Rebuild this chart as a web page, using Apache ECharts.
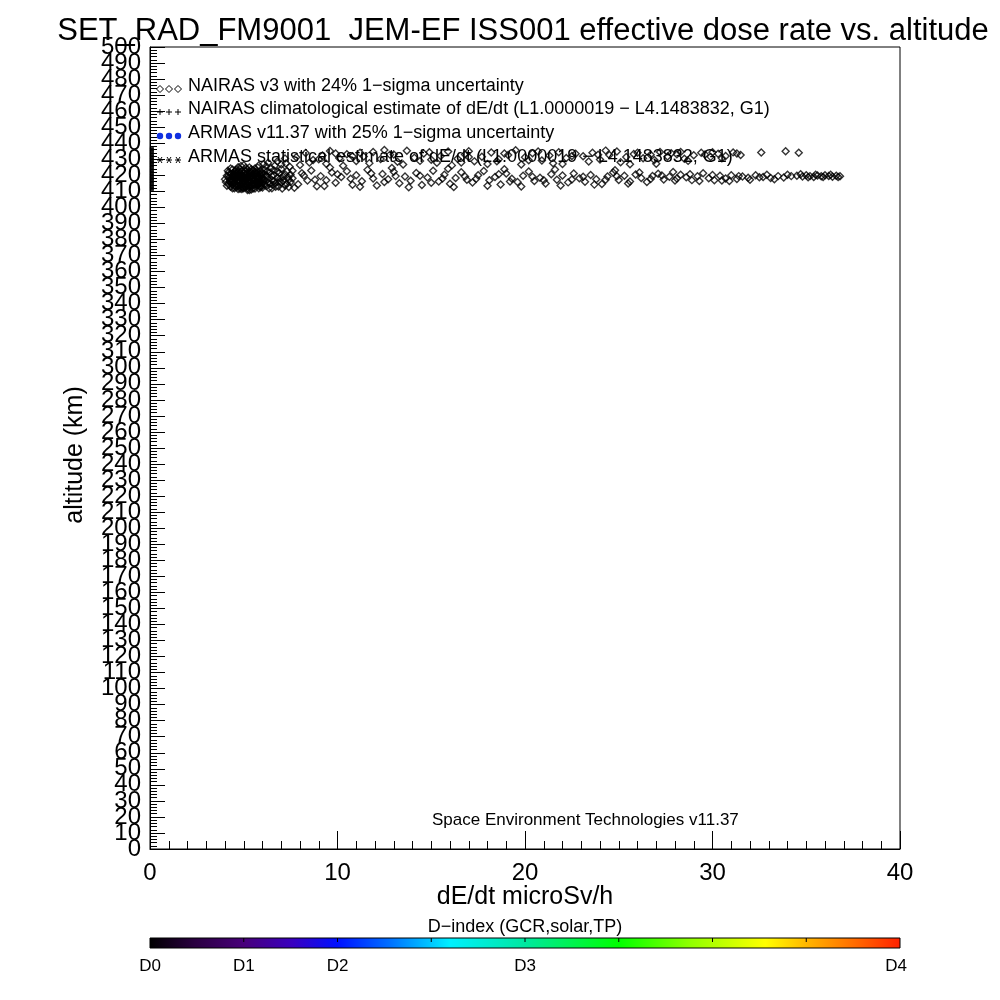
<!DOCTYPE html>
<html><head><meta charset="utf-8">
<script src="https://cdn.jsdelivr.net/npm/echarts@6/dist/echarts.min.js"></script>
<style>html,body{margin:0;padding:0;background:#fff}#c{width:1000px;height:1000px}</style>
</head><body><div id="c"></div><script>
// ---- data (dose rate microSv/h, altitude km) ----
const clusterCore = [
[4.0,417.5],[4.1,419.8],[4.2,414.6],[4.2,421.9],[4.3,416.9],[4.3,412.8],[4.4,419.2],[4.4,423.6],[4.5,415.3],[4.5,411.9],
[4.6,418.1],[4.6,421.0],[4.7,413.7],[4.7,425.1],[4.8,416.2],[4.8,419.9],[4.9,411.4],[4.9,422.7],[5.0,414.8],[5.0,418.6],
[5.0,426.3],[5.1,412.5],[5.1,420.7],[5.2,416.0],[5.2,423.4],[5.3,413.1],[5.3,418.9],[5.4,421.6],[5.4,415.7],[5.5,411.8],
[5.5,419.4],[5.6,424.2],[5.6,417.3],[5.7,413.9],[5.7,421.2],[5.8,416.5],[5.8,419.0],[5.9,412.6],[5.9,422.8],[6.0,415.1],
[6.0,418.4],[6.1,420.9],[6.2,413.4],[6.2,425.7],[6.3,417.6],[6.4,421.8],[6.4,414.9],[6.5,419.5],[6.6,416.3],[6.6,423.1],
[6.7,412.9],[6.8,418.7],[6.9,421.4],[7.0,415.6],[7.0,426.8],[7.1,419.1],[7.2,413.6],[7.3,422.5],[7.4,417.2],[7.5,420.3],
[4.4,417.0],[4.8,414.0],[5.1,416.8],[5.4,419.6],[4.6,423.5],[5.9,420.2],[6.3,427.9],[6.8,428.8],[7.2,430.5],[5.2,410.9],
[4.3,420.9],[4.9,417.4],[5.6,414.5],[6.1,417.1],[6.9,416.0],[7.4,412.7],[4.5,422.1],[5.3,424.9],[5.8,426.1],[6.5,411.9],
[4.2,418.3],[4.5,413.4],[4.7,420.4],[4.9,415.2],[5.1,422.4],[5.3,410.8],[5.5,416.9],[5.7,418.6],[5.9,415.0],[6.1,423.5],
[4.35,415.6],[4.65,416.7],[4.85,421.3],[5.05,412.9],[5.25,419.9],[5.45,413.6],[5.65,420.3],[5.85,413.2],[6.25,419.6],[6.55,414.2]
];
const clusterExtra = [
[4.1,413.5],[4.15,422.8],[4.25,416.0],[4.3,424.3],[4.4,414.2],[4.45,420.5],[4.55,417.9],[4.6,412.6],[4.7,422.0],[4.75,418.9],
[4.8,411.6],[4.85,425.8],[4.95,419.6],[5.0,421.5],[5.05,416.1],[5.1,424.6],[5.15,413.9],[5.2,418.2],[5.3,415.4],[5.35,422.0],
[5.4,411.2],[5.45,417.8],[5.5,423.3],[5.55,414.0],[5.6,420.7],[5.7,416.0],[5.75,424.8],[5.8,411.9],[5.9,418.0],[5.95,421.6],
[6.0,412.4],[6.05,426.9],[6.1,414.5],[6.2,419.8],[6.25,422.6],[6.3,415.3],[6.35,412.0],[6.45,424.5],[6.5,417.0],[6.6,420.1],
[6.65,426.0],[6.7,415.1],[6.8,422.4],[6.85,413.0],[6.95,418.0],[7.0,424.0],[7.05,411.8],[7.1,416.6],[7.2,420.6],[7.25,427.4],
[7.3,414.8],[7.35,419.0],[7.45,425.3],[7.5,415.9],[7.6,422.8],[4.05,415.9],[4.2,420.2],[4.5,418.9],[4.9,413.0],[5.2,421.0]
];
const clusterDense = [
[4.4,412.0],[4.45,415.0],[4.5,421.0],[4.55,423.0],[4.6,414.0],[4.65,419.0],[4.7,411.5],[4.75,416.5],[4.8,423.9],[4.85,418.0],
[4.9,420.0],[4.95,412.2],[5.0,416.9],[5.05,422.6],[5.1,414.9],[5.15,419.0],[5.2,412.0],[5.25,417.0],[5.3,421.8],[5.35,413.0],
[5.4,417.4],[5.45,422.8],[5.5,414.6],[5.55,420.0],[5.6,411.8],[5.65,416.0],[5.7,422.6],[5.75,414.0],[5.8,418.2],[5.85,420.8],
[5.9,416.8],[5.95,413.4],[6.0,421.0],[4.5,416.0],[4.7,417.0],[4.9,418.9],[5.1,418.0],[5.3,416.4],[5.5,418.0],[5.7,419.7],
[4.6,420.0],[4.8,413.0],[5.0,412.0],[5.2,414.0],[5.4,423.8],[5.6,422.0],[5.8,415.0],[6.0,417.0],[4.35,418.0],[4.55,420.0]
];
const upperBand = [
[7.8,431.2],[8.3,433.9],[8.7,429.5],[9.2,432.4],[9.6,435.1],[10.1,430.6],[10.5,433.2],[11.0,428.9],[11.4,431.8],[11.9,434.6],
[12.3,430.1],[12.8,432.9],[13.2,428.4],[13.7,435.3],[14.1,431.0],[14.6,433.6],[15.0,429.7],[15.5,432.1],[15.9,434.9],[16.4,430.4],
[16.8,433.0],[17.3,428.7],[17.7,431.6],[18.2,434.2],[18.6,430.0],[19.1,432.7],[19.5,435.6],[20.0,431.3],[20.4,433.8],[20.9,429.2],
[21.3,432.3],[21.8,434.4],[22.2,430.8],[22.7,433.5],[23.1,431.9],[23.6,434.0],[24.0,429.9],[24.5,432.6],[24.9,434.8],[25.4,431.4],
[25.8,433.3],[26.3,430.7],[26.7,432.8],[27.2,434.5],[27.6,431.7],[28.1,433.1],[28.5,430.3],[29.0,432.5],[29.4,434.1],[29.9,431.5],
[30.3,433.4],[30.7,432.0],[31.1,434.3],[31.5,432.6],[32.6,434.2],[33.9,435.0],[34.6,434.1],[9.0,430.0],[13.0,433.0],[17.0,435.0]
];
const upperExtra = [
[8.0,426.5],[8.5,428.0],[9.4,427.2],[10.3,426.0],[10.8,431.9],[11.7,427.6],[12.5,435.8],[13.5,426.7],[14.4,429.0],[15.3,427.9],
[16.1,426.2],[17.0,431.4],[18.0,427.1],[18.9,433.6],[19.8,426.8],[20.7,434.9],[21.5,427.5],[22.5,432.0],[23.4,428.6],[24.3,435.4],
[25.1,428.2],[26.0,434.0],[26.9,429.6],[27.8,433.8],[28.7,429.0],[29.6,433.0],[30.5,430.6],[31.3,433.6],[11.2,434.0],[14.9,434.4],
[18.5,428.8],[22.0,427.0],[25.6,426.9],[28.3,434.6],[30.0,434.4],[9.9,433.6],[16.6,428.0],[20.2,429.4],[23.9,432.8],[27.0,427.2]
];
const lowerBand = [
[7.6,418.2],[7.9,414.5],[8.1,421.3],[8.4,416.8],[8.6,423.0],[8.9,413.2],[9.1,419.5],[9.4,417.0],[9.7,421.8],[9.9,415.4],
[10.2,418.9],[10.5,422.6],[10.8,414.1],[11.0,420.0],[11.3,416.3],[11.6,423.4],[11.9,418.0],[12.1,413.7],[12.4,420.8],[12.7,417.5],
[13.0,422.2],[13.3,415.0],[13.6,419.2],[13.9,416.6],[14.2,421.5],[14.5,413.9],[14.8,418.6],[15.1,422.9],[15.4,416.1],[15.7,420.4],
[16.0,414.7],[16.3,418.3],[16.6,421.9],[16.9,417.2],[17.2,415.5],[17.5,420.1],[17.8,422.7],[18.1,416.9],[18.4,419.0],[18.7,414.3],
[19.0,421.2],[19.3,417.8],[19.6,415.9],[19.9,419.7],[20.2,422.4],[20.5,416.4],[20.8,418.5],[21.1,414.9],[21.4,420.6],[21.7,417.3],
[22.0,419.9],[22.3,415.6],[22.6,421.1],[22.9,418.1],[23.2,416.0],[23.5,420.2],[23.8,417.6],[24.1,414.6],[24.4,419.3],[24.7,421.7],
[25.0,417.1],[25.3,419.8],[25.6,416.2],[25.9,420.5],[26.2,418.4],[26.5,415.8],[26.8,419.6],[27.1,421.0],[27.4,417.4],[27.7,419.1],
[28.0,416.7],[28.3,420.3],[28.6,418.8],[28.9,417.0],[29.2,419.4],[29.5,421.3],[29.8,418.2],[30.1,416.9],[30.4,419.7],[30.7,418.0],
[31.0,420.1],[31.3,417.7],[31.6,419.2],[31.9,418.5],[32.3,420.0],[32.7,419.0],[33.1,418.3],[33.5,419.5],[34.0,420.4],[34.5,419.8],
[34.8,419.2],[35.0,420.1],[35.2,419.5],[35.4,419.0],[35.6,419.9],[35.8,419.4],[36.0,420.0],[36.2,419.6],[36.4,419.1],[36.6,419.7],
[36.8,419.4],[33.3,417.6],[30.9,416.4],[27.9,422.0],[24.8,423.2],[21.6,423.6],[18.9,423.8],[15.9,424.1],[12.9,424.5],[9.6,424.8]
];
const lowerExtra = [
[7.7,412.3],[8.2,419.9],[8.8,417.3],[9.3,413.4],[10.0,420.7],[10.7,417.8],[11.2,412.9],[11.8,421.1],[12.5,415.9],[13.1,419.5],
[13.8,412.6],[14.4,419.8],[15.0,415.3],[15.6,418.0],[16.2,412.7],[16.8,419.3],[17.4,417.9],[18.0,413.5],[18.6,420.6],[19.2,416.2],
[19.8,413.0],[20.4,419.1],[21.0,417.0],[21.9,413.7],[22.5,417.4],[23.1,419.1],[23.7,414.2],[24.3,417.2],[24.9,419.4],[25.5,414.9],
[26.1,421.8],[26.7,417.7],[27.3,419.9],[28.1,418.0],[28.8,420.7],[29.3,416.4],[30.0,420.2],[30.5,416.8],[31.4,419.5],[32.0,417.2],
[32.5,418.8],[34.2,419.5],[34.7,420.6],[35.1,418.8],[35.5,420.4],[35.9,418.9],[36.3,420.3],[36.7,418.9],[33.8,418.6],[32.9,420.4]
];
const climDose = 0.1;
const climAltitudes = [411,412,413,414,415,416,417,418,419,420,421,422,423,424,425,426,427,428,429,430,431,432,433,434,435,436,437];

const titleText = 'SET_RAD_FM9001  JEM-EF ISS001 effective dose rate vs. altitude';
const legendLabels = [
  'NAIRAS v3 with 24% 1\u2212sigma uncertainty',
  'NAIRAS climatological estimate of dE/dt (L1.0000019 \u2212 L4.1483832, G1)',
  'ARMAS v11.37 with 25% 1\u2212sigma uncertainty',
  'ARMAS statistical estimate of dE/dt (L1.0000019 \u2212 L4.1483832, G1)'
];
const creditText = 'Space Environment Technologies v11.37';
const xName = 'dE/dt microSv/h';
const yName = 'altitude (km)';
const yEndLabels = [0, 500];
const colorbarTitle = 'D\u2212index (GCR,solar,TP)';
const colorbarLabels = ['D0','D1','D2','D3','D4'];
const colorbarLabelFrac = [0, 0.125, 0.25, 0.5, 1];
const colorbarStops = [
  [0,'#000000'],[0.06,'#2a0040'],[0.125,'#48007a'],[0.19,'#3a00c0'],[0.25,'#0010ff'],
  [0.32,'#0070ff'],[0.40,'#00f0ff'],[0.50,'#00e8a0'],[0.625,'#00ff00'],[0.72,'#90ff00'],
  [0.82,'#ffff00'],[0.88,'#ffb000'],[0.94,'#ff6a00'],[1,'#ff2000']
];

// ---- layout ----
const FONT = '"Liberation Sans", Arial, sans-serif';
const GL = 150, GR = 900, GT = 47, GB = 849;
const chart = echarts.init(document.getElementById('c'), null, {renderer:'canvas'});

const graphics = [];
graphics.push({type:'text', style:{text:titleText, x:523, y:31, align:'center', verticalAlign:'middle', font:'31px '+FONT, fill:'#000'}});
// legend
const rowY = [86, 109, 133, 157];
legendLabels.forEach((t,i)=>{
  graphics.push({type:'text', style:{text:t, x:188, y:rowY[i], verticalAlign:'middle', font:'18px '+FONT, fill:'#000'}});
});
[160,169,178].forEach(cx=>{
  const y0 = rowY[0]+3;
  graphics.push({type:'polygon', shape:{points:[[cx,y0-3.5],[cx+3.5,y0],[cx,y0+3.5],[cx-3.5,y0]]}, style:{fill:'none', stroke:'#000', lineWidth:1}});
  const y1 = rowY[1]+3;
  graphics.push({type:'polyline', shape:{points:[[cx-3,y1],[cx+3,y1]]}, style:{stroke:'#000', lineWidth:1}});
  graphics.push({type:'polyline', shape:{points:[[cx,y1-3],[cx,y1+3]]}, style:{stroke:'#000', lineWidth:1}});
  const y2 = rowY[2]+3;
  graphics.push({type:'circle', shape:{cx:cx, cy:y2, r:3.2}, style:{fill:'#1030e0'}});
  const y3 = rowY[3]+3;
  graphics.push({type:'polyline', shape:{points:[[cx-3,y3],[cx+3,y3]]}, style:{stroke:'#000', lineWidth:1}});
  graphics.push({type:'polyline', shape:{points:[[cx-2,y3-3],[cx+2,y3+3]]}, style:{stroke:'#000', lineWidth:1}});
  graphics.push({type:'polyline', shape:{points:[[cx+2,y3-3],[cx-2,y3+3]]}, style:{stroke:'#000', lineWidth:1}});
});
graphics.push({type:'text', style:{text:creditText, x:432, y:820, verticalAlign:'middle', font:'17px '+FONT, fill:'#000'}});
graphics.push({type:'text', style:{text:xName, x:525, y:897, align:'center', verticalAlign:'middle', font:'25px '+FONT, fill:'#000'}});
graphics.push({type:'text', style:{text:colorbarTitle, x:525, y:927, align:'center', verticalAlign:'middle', font:'18px '+FONT, fill:'#000'}});
// colorbar
graphics.push({type:'rect', shape:{x:GL, y:938, width:GR-GL, height:10},
  style:{fill:new echarts.graphic.LinearGradient(0,0,1,0, colorbarStops.map(s=>({offset:s[0], color:s[1]}))), stroke:'#000', lineWidth:1}});
for (let k=1;k<8;k++){
  const x = GL + (GR-GL)*k/8;
  graphics.push({type:'polyline', shape:{points:[[x,938],[x,942]]}, style:{stroke:'#000', lineWidth:1}});
}
colorbarLabels.forEach((t,i)=>{
  const x = GL + (GR-GL)*colorbarLabelFrac[i];
  graphics.push({type:'text', style:{text:t, x:(i===4? x-4 : x), y:966, align:'center', verticalAlign:'middle', font:'17px '+FONT, fill:'#000'}});
});
graphics.push({type:'text', rotation:Math.PI/2, x:75, y:455, style:{text:yName, x:0, y:0, align:'center', verticalAlign:'middle', font:'25px '+FONT, fill:'#000'}});

const yLabelStyle = {color:'#000', fontSize:24, fontFamily:FONT, margin:9, hideOverlap:false};
const option = {
  backgroundColor:'#fff',
  animation:false,
  grid:{left:GL, right:1000-GR, top:GT, bottom:1000-GB, show:true, borderColor:'#000', borderWidth:1, backgroundColor:'transparent'},
  xAxis:{type:'value', min:0, max:40, interval:10,
    axisLine:{show:true, lineStyle:{color:'#000', width:1}},
    axisTick:{show:true, inside:true, length:18, lineStyle:{color:'#000'}},
    minorTick:{show:true, splitNumber:10, length:8, lineStyle:{color:'#000'}},
    splitLine:{show:false},
    axisLabel:{color:'#000', fontSize:24, fontFamily:FONT, margin:12, showMinLabel:true, showMaxLabel:true}
  },
  yAxis:[
    {type:'value', min:0, max:500, interval:10, position:'left',
     axisLine:{show:true, lineStyle:{color:'#000', width:1}},
     axisTick:{show:true, inside:true, length:15, lineStyle:{color:'#000'}},
     minorTick:{show:true, splitNumber:5, length:7, lineStyle:{color:'#000'}},
     splitLine:{show:false},
     axisLabel:Object.assign({}, yLabelStyle, {showMinLabel:false, showMaxLabel:false})
    },
    {type:'value', min:0, max:500, interval:10, position:'left', offset:0,
     axisLine:{show:false}, axisTick:{show:false}, minorTick:{show:false}, splitLine:{show:false},
     axisLabel:Object.assign({}, yLabelStyle, {showMinLabel:true, showMaxLabel:true,
       formatter:v=> yEndLabels.indexOf(v) >= 0 ? String(v) : ''})
    }
  ],
  series:[
    {name:'NAIRAS v3', type:'scatter', symbol:'diamond', symbolSize:7, yAxisIndex:0,
     itemStyle:{color:'rgba(255,255,255,0)', borderColor:'#000', borderWidth:1.4},
     data: clusterCore.concat(clusterExtra, clusterDense, upperBand, upperExtra, lowerBand, lowerExtra)},
    {name:'NAIRAS climatological', type:'scatter', symbol:'rect', symbolSize:[4,3], yAxisIndex:0,
     itemStyle:{color:'#000'},
     data: climAltitudes.map(a=>[climDose, a])}
  ],
  graphic: graphics
};
chart.setOption(option);
</script></body></html>
